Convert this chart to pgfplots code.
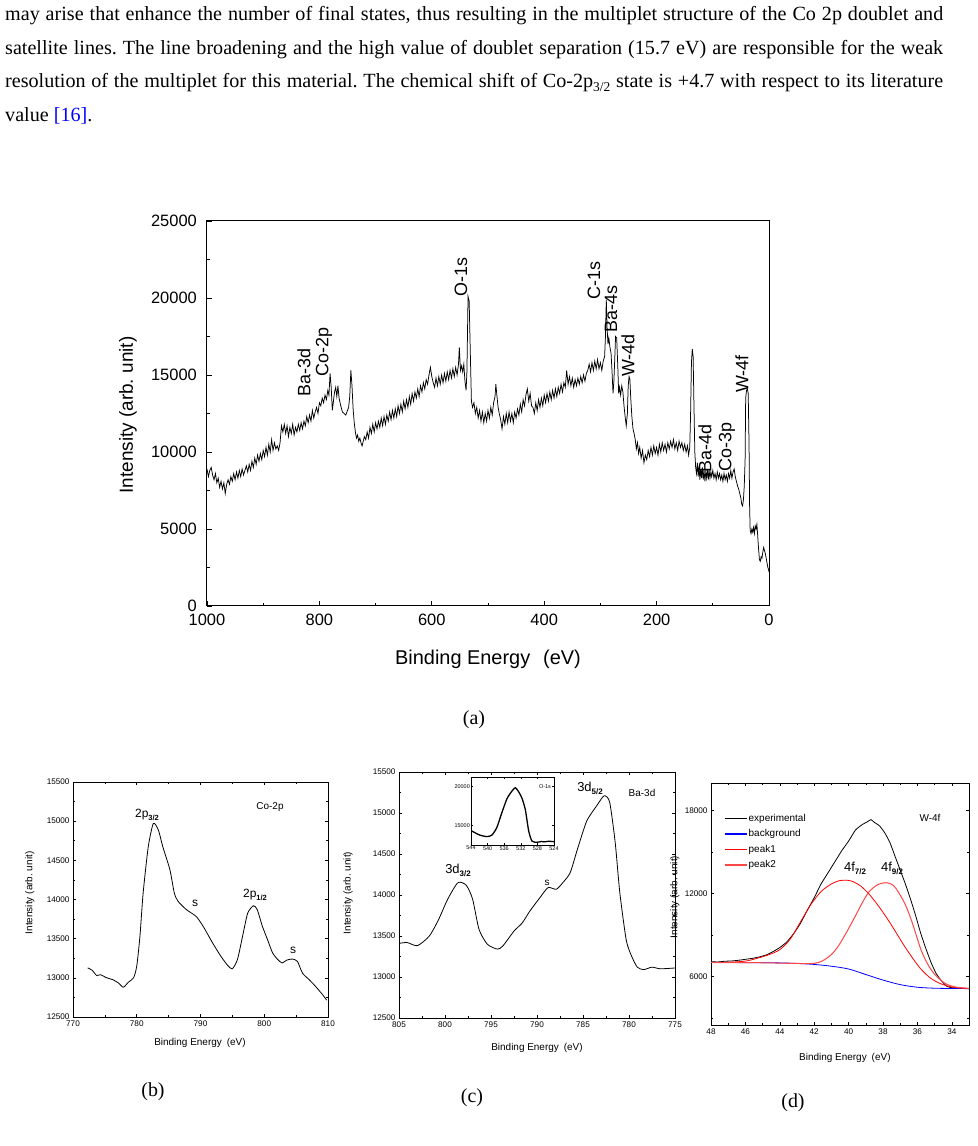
\documentclass[border=0pt]{standalone}
\usepackage{pgfplots}
\pgfplotsset{compat=1.18}
\usepackage{fontspec}
\setmainfont{Liberation Serif}
\newfontfamily\arial{Liberation Sans}
\definecolor{pkone}{RGB}{255,0,0}
\definecolor{pktwo}{RGB}{255,70,70}
\definecolor{bgblue}{RGB}{0,0,255}
\newcommand{\fs}[1]{\fontsize{#1}{#1}\selectfont}
\newcommand{\sub}[2]{\raisebox{-0.45ex}{\fs{#1}\bfseries #2}}
\begin{document}
\frenchspacing
\begin{tikzpicture}
\useasboundingbox (0,0) rectangle (978bp,1146bp);
% ---------- paragraph text ----------
\node[anchor=base west,inner sep=0] at (5bp,1125.5bp) {\fs{20.2}\makebox[938bp][s]{may arise that enhance the number of final states, thus resulting in the multiplet structure of the Co 2p doublet and}};
\node[anchor=base west,inner sep=0] at (5bp,1091.8bp) {\fs{20.2}\makebox[938bp][s]{satellite lines. The line broadening and the high value of doublet separation (15.7 eV) are responsible for the weak}};
\node[anchor=base west,inner sep=0] at (5bp,1058.1bp) {\fs{20.2}\makebox[938bp][s]{resolution of the multiplet for this material. The chemical shift of Co-2p\raisebox{-0.35ex}{\fs{13.5}3/2} state is +4.7 with respect to its literature}};
\node[anchor=base west,inner sep=0] at (5bp,1024.4bp) {\fs{20.2}value \textcolor{blue}{[16]}.};
% captions
\node[font=\fs{20}] at (474bp,426bp) {(a)};
\node[font=\fs{20}] at (153bp,54bp) {(b)};
\node[font=\fs{20}] at (472bp,48bp) {(c)};
\node[font=\fs{20}] at (793bp,43bp) {(d)};

% ---------- (a) survey ----------
\begin{axis}[
  at={(207bp,540bp)}, anchor=south west, scale only axis,
  width=562bp, height=385bp,
  xmin=0, xmax=1000, ymin=0, ymax=25000, x dir=reverse,
  xtick={0,200,...,1000}, minor xtick={100,300,...,900},
  ytick={0,5000,...,25000}, minor ytick={2500,7500,...,22500},
  xtick pos=bottom, ytick pos=left, tick align=inside,
  major tick length=5bp, minor tick length=3bp,
  axis line style={line width=1bp}, every tick/.style={line width=0.8bp, black},
  /pgf/number format/assume math mode=true, /pgf/number format/1000 sep={},
  scaled ticks=false,
  tick label style={font=\arial\fs{16.5}, inner sep=1bp},
  xticklabel style={yshift=-7bp},
  yticklabel style={xshift=-9bp, yshift=0.5bp},
  xlabel={Binding Energy\hspace{0.65em}(eV)}, ylabel={Intensity (arb. unit)},
  label style={font=\arial\fs{19}},
  xlabel style={at={(axis description cs:0.5,-0.138)}, anchor=center, font=\arial\fs{20}},
  ylabel style={at={(axis description cs:-0.1406,0.496)}, anchor=center},
]
\addplot[black, line width=0.75bp] coordinates {
(1000,8900)(997.5,8400)(995,8800)(992.5,9000)(990,8500)(987.5,8200)(985,8600)(982.5,8000)(980,8300)(977.5,7700)
(975,8100)(972.5,7600)(970,8000)(967.5,7300)(965,7900)(962.5,8200)(960,7900)(957.5,8400)(955,8100)(952.5,8600)
(950,8200)(947.5,8700)(945,8300)(942.5,8800)(940,8400)(937.5,8900)(935,8500)(932.5,8800)(930,9100)(927.5,8700)
(925,9200)(922.5,8800)(920,9400)(917.5,9000)(915,9600)(912.5,9200)(910,9800)(907.5,9400)(905,9900)(902.5,9500)
(900,10100)(897.5,9700)(895,10300)(892.5,9800)(890,10500)(887.5,10000)(885,10800)(882.5,10100)(880,10600)(877.5,10200)
(875,10400)(872.5,10100)(870,10600)(867.5,11700)(865,11300)(862.5,11800)(860,11200)(857.5,11700)(855,11000)(852.5,11600)
(850,11200)(847.5,11800)(845,11100)(842.5,11600)(840,11300)(837.5,11800)(835,11400)(832.5,11900)(830,11500)(827.5,12000)
(825,11700)(822.5,12300)(820,11900)(817.5,12400)(815,12000)(812.5,12700)(810,12200)(807.5,12600)(805,12900)(802.5,12500)
(800,13200)(797.5,13000)(795,13500)(792.5,13200)(790,13700)(787.5,13400)(785,14000)(783,13700)(781,15100)(779,14200)
(777,12700)(775,13300)(773,13900)(771,14200)(769,13600)(767,14300)(765,13500)(762,13000)(759,12600)(756,12500)
(753,12400)(750,12700)(748,12900)(746,13600)(744,15300)(742,14300)(740,12800)(738,11900)(736,11300)(734,10900)
(732,11100)(730,10700)(728,10900)(726,10600)(724,10400)(722,10700)(720,11000)(717.5,10800)(715,11300)(712.5,10900)
(710,11600)(707.5,11200)(705,11800)(702.5,11300)(700,11900)(697.5,11500)(695,12000)(692.5,11600)(690,12200)(687.5,11700)
(685,12300)(682.5,11800)(680,12400)(677.5,12000)(675,12600)(672.5,12100)(670,12700)(667.5,12200)(665,12800)(662.5,12300)
(660,13000)(657.5,12500)(655,13100)(652.5,12600)(650,13300)(647.5,12800)(645,13400)(642.5,12900)(640,13600)(637.5,13100)
(635,13800)(632.5,13300)(630,13900)(627.5,13500)(625,14100)(622.5,13600)(620,14300)(617.5,13900)(615,14500)(612.5,14100)
(610,14700)(607.5,14400)(605,15000)(602.5,15500)(600,14900)(597.5,14500)(595,14200)(592.5,14800)(590,14300)(587.5,14900)
(585,14400)(582.5,15000)(580,14500)(577.5,15100)(575,14600)(572.5,15200)(570,14700)(567.5,15300)(565,14800)(562.5,15400)
(560,14900)(557.5,15500)(555,15000)(552.5,15700)(551,16800)(549,15300)(547,15600)(545,15200)(543,15700)(541,14600)
(539,14000)(537.5,15200)(535.5,20100)(533.5,19800)(531.5,16500)(529.5,13300)(527.5,12900)(525,13200)(522.5,12500)(520,12900)
(517.5,12200)(515,12700)(512.5,12000)(510,12600)(507.5,11900)(505,12500)(502.5,12000)(500,12700)(497.5,12200)(495,12900)
(492.5,12400)(490,13200)(487.5,13600)(486,14400)(484,13600)(482,12900)(480,12500)(477.5,12100)(475,11500)(472.5,12300)
(470,11800)(467.5,12500)(465,11900)(462.5,12600)(460,12000)(457.5,12500)(455,11900)(452.5,12600)(450,12200)(447.5,12800)
(445,12400)(442.5,13100)(440,12600)(437.5,13400)(435,13000)(432.5,13700)(430,14100)(427.5,13300)(425,13800)(422.5,13000)
(420,12900)(417.5,12500)(415,13200)(412.5,12700)(410,13400)(407.5,12900)(405,13500)(402.5,13000)(400,13700)(397.5,13200)
(395,13800)(392.5,13300)(390,13900)(387.5,13400)(385,14000)(382.5,13500)(380,14100)(377.5,13600)(375,14200)(372.5,13800)
(370,14400)(367.5,13900)(365,14500)(362.5,14200)(360,15300)(357.5,14400)(355,14900)(352.5,14300)(350,14800)(347.5,14200)
(345,14700)(342.5,14300)(340,14800)(337.5,14400)(335,14900)(332.5,14500)(330,15000)(327.5,14600)(325,15100)(322.5,15300)
(320,15700)(317.5,15200)(315,15800)(312.5,15300)(310,15900)(307.5,15400)(305,16000)(302.5,15400)(300,15800)(297.5,15300)
(295,15900)(292.5,16200)(291,17500)(289.5,19900)(288,18000)(286.5,17000)(285,17400)(283,16800)(281,16400)(279,15000)
(277.5,13800)(276,14600)(274.5,16000)(273,17500)(271,17400)(269,15500)(267.5,13800)(266,14200)(264,13700)(262,14300)
(260,13900)(258,13000)(256,12300)(254,11700)(252,12500)(250.5,14300)(249,14900)(247.5,14700)(246,13500)(244,12300)
(242,11500)(240,11200)(238,10800)(236,10200)(234,10600)(232,9900)(230,10300)(227.5,9600)(225,10100)(222.5,9300)
(220,9800)(217.5,9500)(215,10100)(212.5,9700)(210,10300)(207.5,9800)(205,10400)(202.5,9900)(200,10300)(197.5,9800)
(195,10500)(192.5,10000)(190,10600)(187.5,10100)(185,10500)(182.5,10000)(180,10600)(177.5,10200)(175,10700)(172.5,10300)
(170,10800)(167.5,10200)(165,10600)(162.5,10100)(160,10700)(157.5,10300)(155,10600)(152.5,10100)(150,10500)(147.5,10000)
(145,10400)(143,9800)(141,10300)(139.5,12500)(138,15800)(136.5,16700)(135,16200)(133.5,13000)(132,10000)(130.5,9000)
(129,8600)(127.5,9300)(126,8400)(124.5,9100)(123,8200)(121.5,8900)(120,8300)(118.5,9000)(117,8200)(115.5,8800)
(114,8100)(112.5,8700)(111,8300)(109.5,8900)(108,8200)(106.5,8800)(105,8300)(103.5,8700)(102,8400)(100,8800)
(98,8300)(96,8600)(94,8200)(92,8700)(90,8300)(88,8600)(86,8200)(84,8500)(82,8100)(80,8600)
(78,8200)(76,8500)(74,8100)(72,8600)(70,8300)(68,8800)(66,8300)(64,8700)(62,8900)(60,8400)
(58,8100)(56,7800)(54,7600)(52,7300)(50,7000)(48.5,6600)(47,6500)(45.5,6900)(44,7800)(42.5,9500)
(41.5,13500)(40,14000)(38.5,14100)(37,13800)(35.5,10500)(34.5,6500)(33.5,4900)(32,4700)(30.5,5000)(29,4800)
(27.5,5100)(26,4700)(24.5,5200)(23,5000)(21.5,5300)(20,4500)(18.5,3700)(17,3000)(15.5,2900)(14,3200)
(12.5,3100)(11,3500)(9.5,3800)(8,3600)(6.5,3400)(5,3100)(3.5,2800)(2,2500)(1,2400)(0,2200)
};
\end{axis}
% rotated peak labels (a)
\begin{scope}[every node/.style={rotate=90, anchor=west, inner sep=0, font=\arial\fs{18}}]
\node at (304bp,749bp) {Ba-3d};
\node at (324bp,769bp) {Co-2p};
\node at (461bp,849bp) {O-1s};
\node at (594bp,846bp) {C-1s};
\node at (611bp,813bp) {Ba-4s};
\node at (628bp,769bp) {W-4d};
\node at (742bp,753bp) {W-4f};
\node at (705bp,673bp) {Ba-4d};
\node at (727bp,674bp) {Co-3p};
\end{scope}

% ---------- (b) Co-2p ----------
\begin{axis}[
  at={(73bp,129bp)}, anchor=south west, scale only axis,
  width=255bp, height=235bp,
  xmin=770, xmax=810, ymin=12500, ymax=15500,
  xtick={770,780,...,810}, minor xtick={775,785,...,805},
  ytick={12500,13000,...,15500}, minor ytick={12750,13250,...,15250},
  tick align=inside, major tick length=3bp, minor tick length=1.8bp,
  axis line style={line width=0.8bp}, every tick/.style={line width=0.6bp, black},
  /pgf/number format/assume math mode=true, /pgf/number format/1000 sep={},
  scaled ticks=false,
  tick label style={font=\arial\fs{8.2}},
  xlabel={Binding Energy\hspace{0.5em}(eV)}, ylabel={Intensity (arb. unit)},
  label style={font=\arial\fs{10}},
  xlabel style={at={(axis description cs:0.498,-0.11)}, anchor=center},
  ylabel style={at={(axis description cs:-0.169,0.528)}, anchor=center},
]
\addplot[black, line width=0.8bp, smooth, tension=0.4] coordinates {
(772.3,13127)(773,13097)(773.7,13030)(774.3,13040)(775.3,13000)(776.3,12975)(777.2,12930)(777.9,12880)(778.7,12945)
(779.5,13000)(780,13150)(780.5,13530)(781,14080)(781.8,14670)(782.6,14970)(783.4,14885)(784.1,14670)
(785.2,14380)(785.9,14080)(786.5,13975)(787.8,13870)(789.3,13785)(790.4,13660)(791.9,13445)(793.2,13275)
(794.3,13155)(795,13115)(795.8,13235)(796.6,13530)(797.4,13825)(798.3,13920)(798.9,13870)(799.7,13660)
(800.5,13490)(801.3,13320)(802.1,13235)(802.8,13190)(803.5,13225)(804.4,13240)(805.2,13210)(806,13060)
(807,12980)(808,12895)(809.1,12790)(809.8,12715)
};
\end{axis}
\node[font=\arial\fs{12}] at (147bp,331bp) {2p\sub{7.5}{3/2}};
\node[font=\arial\fs{10}] at (270bp,339bp) {Co-2p};
\node[font=\arial\fs{12}] at (195bp,243bp) {s};
\node[font=\arial\fs{12}] at (255bp,251bp) {2p\sub{7.5}{1/2}};
\node[font=\arial\fs{12}] at (293bp,196bp) {s};

% ---------- (c) Ba-3d ----------
\begin{axis}[
  at={(399bp,128bp)}, anchor=south west, scale only axis,
  width=276bp, height=246bp,
  xmin=775, xmax=805, ymin=12500, ymax=15500, x dir=reverse,
  xtick={775,780,...,805}, minor xtick={777.5,782.5,...,802.5},
  ytick={12500,13000,...,15500}, minor ytick={12750,13250,...,15250},
  tick align=inside, major tick length=3bp, minor tick length=1.8bp,
  axis line style={line width=0.8bp}, every tick/.style={line width=0.6bp, black},
  /pgf/number format/assume math mode=true, /pgf/number format/1000 sep={},
  scaled ticks=false,
  tick label style={font=\arial\fs{8.2}},
  xlabel={Binding Energy\hspace{0.5em}(eV)}, ylabel={Intensity (arb. unit)},
  label style={font=\arial\fs{10}},
  xlabel style={at={(axis description cs:0.5,-0.122)}, anchor=center},
  ylabel style={at={(axis description cs:-0.185,0.508)}, anchor=center},
]
\addplot[black, line width=0.8bp, smooth, tension=0.4] coordinates {
(805,13410)(804.1,13420)(803,13382)(801.7,13500)(800.7,13700)(799.7,13950)(798.6,14150)(797.7,14120)
(797,13950)(796.3,13580)(795.4,13400)(794.3,13340)(793.7,13380)(792.5,13560)(791.6,13660)(790.8,13800)
(789.7,13965)(788.8,14090)(787.9,14070)(787.2,14150)(786.4,14270)(785.6,14560)(784.6,14900)(783.5,15090)
(782.7,15210)(782.1,15130)(781.5,14640)(781,14030)(780.3,13450)(779.7,13250)(779.1,13120)(778.4,13090)
(777.5,13120)(776.6,13100)(775,13110)
};
\end{axis}
\node[font=\arial\fs{13}] at (458bp,276bp) {3d\sub{8}{3/2}};
\node[font=\arial\fs{10}] at (547bp,263bp) {s};
\node[font=\arial\fs{13}] at (590bp,358bp) {3d\sub{8}{5/2}};
\node[font=\arial\fs{10}] at (642bp,353bp) {Ba-3d};
% inset
\begin{axis}[
  at={(471bp,301bp)}, anchor=south west, scale only axis,
  width=83bp, height=68bp,
  xmin=524, xmax=544, ymin=12500, ymax=21200, x dir=reverse,
  xtick={524,528,...,544}, ytick={15000,20000},
  tick align=inside, major tick length=2bp,
  axis line style={line width=0.6bp}, every tick/.style={line width=0.4bp, black},
  /pgf/number format/assume math mode=true, /pgf/number format/1000 sep={},
  scaled ticks=false,
  tick label style={font=\arial\fs{5.5}, inner sep=1bp},
  axis background/.style={fill=white},
]
\addplot[black, line width=1.3bp, smooth, tension=0.4] coordinates {
(543.8,14290)(542.8,14000)(541.8,13750)(540.2,13580)(539,13750)(537.8,14710)(536.6,16580)(535.3,18460)
(534.1,19420)(533.3,19830)(532.5,19290)(531.7,18460)(530.9,17000)(530.1,14290)(529.3,13000)(528.1,12850)
(527,12950)(526.4,12900)(525.2,12980)(524,12920)
};
\end{axis}
\node[font=\arial\fs{5.5}] at (545bp,359bp) {O-1s};

% ---------- (d) W-4f ----------
\begin{axis}[
  at={(711bp,121bp)}, anchor=south west, scale only axis,
  width=258bp, height=242bp,
  xmin=33, xmax=48, ymin=2500, ymax=20000, x dir=reverse,
  xtick={34,36,...,48}, minor xtick={35,37,...,47},
  ytick={6000,12000,18000}, minor ytick={3000,9000,15000},
  tick align=inside, major tick length=3bp, minor tick length=1.8bp,
  axis line style={line width=0.8bp}, every tick/.style={line width=0.6bp, black},
  /pgf/number format/assume math mode=true, /pgf/number format/1000 sep={},
  scaled ticks=false,
  tick label style={font=\arial\fs{8.2}},
  xlabel={Binding Energy\hspace{0.5em}(eV)}, ylabel={Intensity (arb. unit)},
  label style={font=\arial\fs{10}},
  xlabel style={at={(axis description cs:0.519,-0.136)}, anchor=center},
  ylabel style={at={(axis description cs:-0.14,0.529)}, anchor=center},
  legend style={draw=none, fill=none, at={(axis description cs:0.05,0.875)}, anchor=north west,
    font=\arial\fs{10}, row sep=4.6bp, inner sep=0bp, nodes={inner sep=1bp}},
  legend cell align=left,
  legend image code/.code={\draw[#1] (0bp,0bp) -- (22bp,0bp);},
]
\addlegendimage{draw=black, line width=1.2bp}
\addlegendentry{experimental}
\addlegendimage{draw=bgblue, line width=1.4bp}
\addlegendentry{background}
\addlegendimage{draw=pkone, line width=1.4bp}
\addlegendentry{peak1}
\addlegendimage{draw=pktwo, line width=1.6bp}
\addlegendentry{peak2}
\addplot[black, line width=0.8bp, smooth, tension=0.3, forget plot] coordinates {
(48.0,7080)(47.6,7060)(47.2,7110)(46.8,7130)(46.4,7180)(46.0,7250)(45.6,7320)(45.2,7420)(44.8,7560)
(44.4,7800)(44.0,8100)(43.6,8500)(43.2,9100)(42.8,9850)(42.4,10800)(42.0,11700)(41.6,12700)(41.2,13500)
(40.8,14300)(40.4,15100)(40.0,15800)(39.6,16600)(39.2,17000)(38.9,17200)(38.7,17350)(38.5,17150)
(38.2,16900)(37.9,16400)(37.6,15700)(37.3,14700)(37.0,13700)(36.7,12700)(36.4,11600)(36.1,10400)
(35.8,9100)(35.5,8000)(35.2,7000)(34.9,6200)(34.6,5700)(34.3,5300)(34.0,5200)(33.6,5150)(33.0,5130)
};
\addplot[draw=bgblue, line width=0.8bp, smooth, forget plot] coordinates {
(48,7020)(46,7010)(44,6990)(43,6950)(42,6880)(41,6750)(40,6550)(39,6150)(38,5750)(37,5420)(36,5230)(35,5160)(34,5140)(33,5130)
};
\addplot[draw=pkone, line width=0.8bp, smooth, forget plot] coordinates {
(48,7020)(47,7040)(46,7120)(45.3,7330)(44.6,7600)(44,7950)(43.4,8700)(42.8,9950)(42.2,11200)(41.6,12150)
(41.0,12700)(40.5,12950)(40.2,12975)(39.8,12900)(39.3,12550)(38.8,11950)(38.2,11000)(37.6,9900)(37.1,8900)
(36.7,8100)(36.2,7200)(35.8,6550)(35.3,5950)(34.8,5570)(34.2,5300)(33.6,5180)(33,5140)
};
\addplot[draw=pktwo, line width=1bp, smooth, forget plot] coordinates {
(48,7020)(45,7000)(43,6950)(42,6960)(41.5,7150)(41,7600)(40.6,8200)(40.1,9250)(39.6,10400)(39.2,11350)
(38.8,12150)(38.3,12650)(37.8,12790)(37.4,12600)(37.1,12100)(36.7,11200)(36.3,9900)(35.8,7970)(35.4,6900)
(35.0,6170)(34.6,5700)(34.3,5450)(33.8,5250)(33.0,5150)
};
\end{axis}
\node[font=\arial\fs{10}] at (930bp,328bp) {W-4f};
\node[font=\arial\fs{13}] at (855bp,278bp) {4f\sub{8}{7/2}};
\node[font=\arial\fs{13}] at (892bp,278bp) {4f\sub{8}{9/2}};
\end{tikzpicture}
\end{document}
